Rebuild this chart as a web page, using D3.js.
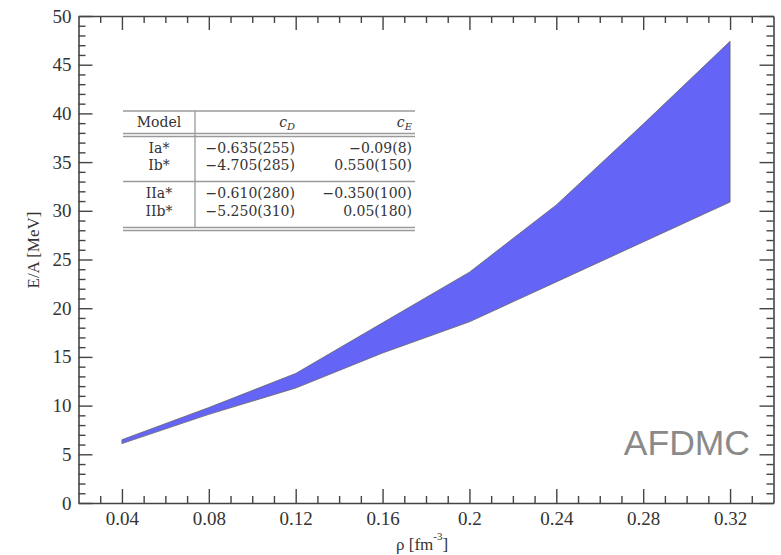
<!DOCTYPE html>
<html><head><meta charset="utf-8">
<script src="https://cdn.jsdelivr.net/npm/d3@7"></script>
<style>body{margin:0;background:#fff}svg{display:block}</style>
</head><body>
<svg id="c" width="781" height="555"></svg>
<script>
// ---- data ----
const rho   = [0.04, 0.08, 0.12, 0.16, 0.20, 0.24, 0.28, 0.32];
const upper = [6.5, 9.8, 13.3, 18.5, 23.7, 30.6, 38.9, 47.4];
const lower = [6.1, 9.1, 11.8, 15.4, 18.6, 22.7, 26.8, 30.9];
const xTicks = [0.04, 0.08, 0.12, 0.16, 0.2, 0.24, 0.28, 0.32];
const xTickLabels = ["0.04", "0.08", "0.12", "0.16", "0.2", "0.24", "0.28", "0.32"];
const yTicks = [0, 5, 10, 15, 20, 25, 30, 35, 40, 45, 50];
const models = ["Ia*", "Ib*", "IIa*", "IIb*"];
const cD = ["\u22120.635(255)", "\u22124.705(285)", "\u22120.610(280)", "\u22125.250(310)"];
const cE = ["\u22120.09(8)", "0.550(150)", "\u22120.350(100)", "0.05(180)"];

const svg = d3.select("#c");
const L = 78.5, R = 773.5, T = 16, B = 503;
const x = d3.scaleLinear().domain([0.02, 0.34]).range([L, R]);
const y = d3.scaleLinear().domain([0, 50]).range([B, T]);

const axisColor = "#444";
const serif = "'Liberation Serif', 'Times New Roman', serif";
const tserif = "'DejaVu Serif', serif";

// band
const band = rho.map((r, i) => ({r, lo: lower[i], hi: upper[i]}));
svg.append("path").datum(band)
  .attr("d", d3.area().x(d => x(d.r)).y0(d => y(d.lo)).y1(d => y(d.hi)))
  .attr("fill", "#6464f6").attr("stroke", "#666").attr("stroke-width", 0.8);

// axes helper
const xMinor = d3.range(3, 34).map(v => v / 100).filter(v => !xTicks.some(t => Math.abs(t - v) < 1e-9));
const yMinor = d3.range(0, 51).filter(v => v % 5 !== 0);

function styleAxis(g) {
  g.select(".domain").attr("stroke", axisColor).attr("stroke-width", 1.6);
  g.selectAll(".tick line").attr("stroke", axisColor).attr("stroke-width", 1.4);
  g.selectAll("text").attr("fill", "#333").attr("font-family", serif).attr("font-size", 19);
}
function minor(g) { g.select(".domain").remove(); g.selectAll("line").attr("stroke", axisColor).attr("stroke-width", 1.4); }

// bottom
const gb = svg.append("g").attr("transform", `translate(0,${B})`)
  .call(d3.axisBottom(x).tickValues(xTicks).tickFormat((d, i) => xTickLabels[i]).tickSizeInner(-14).tickSizeOuter(0).tickPadding(5));
styleAxis(gb);
gb.selectAll("text").attr("dy", "0.9em");
svg.append("g").attr("transform", `translate(0,${B})`)
  .call(d3.axisBottom(x).tickValues(xMinor).tickFormat("").tickSizeInner(-7).tickSizeOuter(0)).call(minor);

// top
const gt = svg.append("g").attr("transform", `translate(0,${T})`)
  .call(d3.axisTop(x).tickValues(xTicks).tickFormat("").tickSizeInner(-14).tickSizeOuter(0));
styleAxis(gt);
svg.append("g").attr("transform", `translate(0,${T})`)
  .call(d3.axisTop(x).tickValues(xMinor).tickFormat("").tickSizeInner(-7).tickSizeOuter(0)).call(minor);

// left
const gl = svg.append("g").attr("transform", `translate(${L},0)`)
  .call(d3.axisLeft(y).tickValues(yTicks).tickFormat(d3.format("d")).tickSizeInner(-14).tickSizeOuter(0).tickPadding(7));
styleAxis(gl);
svg.append("g").attr("transform", `translate(${L},0)`)
  .call(d3.axisLeft(y).tickValues(yMinor).tickFormat("").tickSizeInner(-7).tickSizeOuter(0)).call(minor);

// right
const gr = svg.append("g").attr("transform", `translate(${R},0)`)
  .call(d3.axisRight(y).tickValues(yTicks).tickFormat("").tickSizeInner(-14).tickSizeOuter(0));
styleAxis(gr);
svg.append("g").attr("transform", `translate(${R},0)`)
  .call(d3.axisRight(y).tickValues(yMinor).tickFormat("").tickSizeInner(-7).tickSizeOuter(0)).call(minor);

// axis titles
svg.append("text").attr("transform", "translate(39,250) rotate(-90)")
  .attr("text-anchor", "middle").attr("font-family", serif).attr("font-size", 17).attr("fill", "#333")
  .text("E/A [MeV]");
const xt = svg.append("text").attr("x", 396).attr("y", 550)
  .attr("font-family", serif).attr("font-size", 17).attr("fill", "#333");
xt.append("tspan").text("\u03c1 [fm");
xt.append("tspan").attr("dy", -10).attr("font-size", 11).text("-3");
xt.append("tspan").attr("dy", 10).text("]");

// AFDMC label
svg.append("text").attr("x", 750).attr("y", 455).attr("text-anchor", "end")
  .attr("font-family", "'Liberation Sans', Arial, sans-serif").attr("font-size", 35.5)
  .attr("fill", "#8a8a8a").text("AFDMC");

// table
const tb = svg.append("g");
const tL = 123, tR = 415, tV = 195;
const lc = "#9a9a9a";
function hline(yy) { tb.append("line").attr("x1", tL).attr("x2", tR).attr("y1", yy).attr("y2", yy).attr("stroke", lc).attr("stroke-width", 1.3); }
hline(111); hline(133.5); hline(136.5); hline(181.5); hline(227.5); hline(230.5);
tb.append("line").attr("x1", tV).attr("x2", tV).attr("y1", 111).attr("y2", 227.5).attr("stroke", lc).attr("stroke-width", 1.3);

const fs = 14;
const txt = (xx, yy, s, anchor) => tb.append("text").attr("x", xx).attr("y", yy).attr("text-anchor", anchor)
  .attr("font-family", tserif).attr("font-size", fs).attr("fill", "#333").text(s);
txt(159, 127, "Model", "middle");
// header c_D, c_E
[["D", 295], ["E", 412]].forEach(([sub, xx]) => {
  const t = tb.append("text").attr("x", xx).attr("y", 127).attr("text-anchor", "end")
    .attr("font-family", tserif).attr("font-size", fs).attr("fill", "#333");
  t.append("tspan").attr("font-style", "italic").text("c");
  t.append("tspan").attr("font-style", "italic").attr("font-size", 10).attr("dy", 3).text(sub);
});
const rowY = [152.5, 170, 197.5, 215.5];
models.forEach((m, i) => {
  txt(159, rowY[i], m, "middle");
  txt(295, rowY[i], cD[i], "end");
  txt(412, rowY[i], cE[i], "end");
});
</script>
</body></html>
